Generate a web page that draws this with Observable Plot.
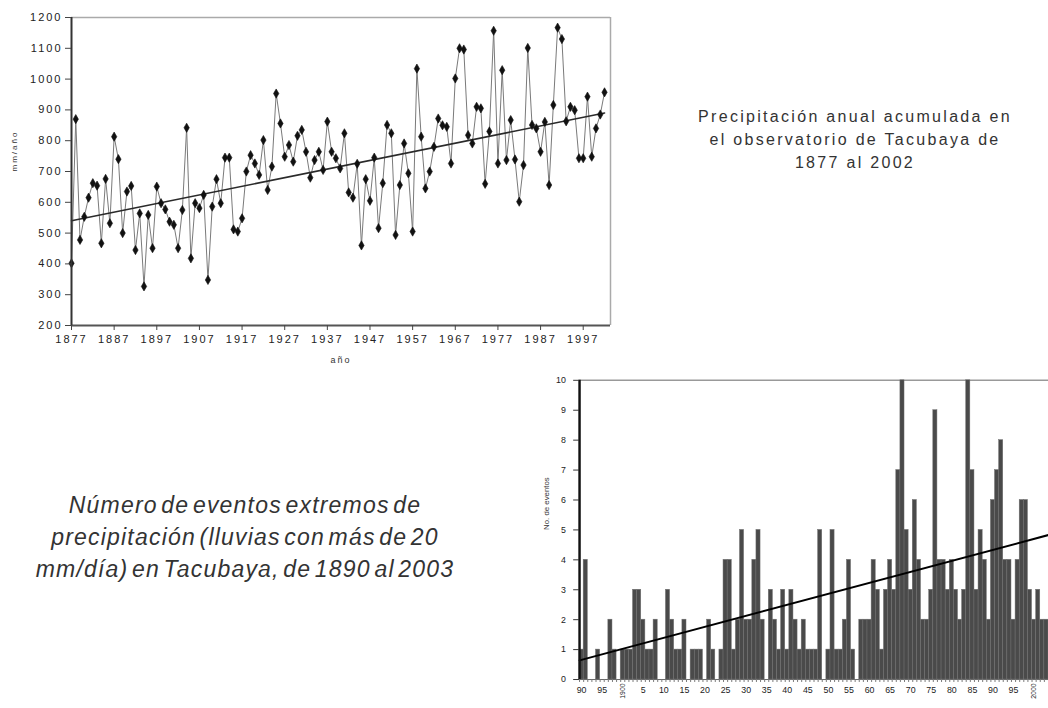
<!DOCTYPE html>
<html>
<head>
<meta charset="utf-8">
<script src="https://cdn.jsdelivr.net/npm/d3@7"></script>
<script src="https://cdn.jsdelivr.net/npm/@observablehq/plot@0.6"></script>
<style>
  html, body { margin: 0; padding: 0; background: #fff; width: 1048px; height: 708px; overflow: hidden; }
  #root { position: relative; width: 1048px; height: 708px; overflow: hidden; }
  .abs { position: absolute; }
  #topChart { left: 0; top: 0; }
  #barChart { left: 530px; top: 370px; }
  #t1 { left: 655px; top: 105px; width: 400px; text-align: center;
        font-family: "Liberation Sans", Arial, sans-serif; font-size: 16px; line-height: 23px;
        color: #333; letter-spacing: 2.3px; }
  #t2 { left: 5px; top: 489px; width: 480px; text-align: center;
        font-family: "Liberation Sans", Arial, sans-serif; font-style: italic; font-size: 23px;
        line-height: 32px; color: #333; letter-spacing: 1.2px; word-spacing: -4px; }
</style>
</head>
<body>
<div id="root">
  <div id="topChart" class="abs"></div>
  <div id="t1" class="abs">Precipitación anual acumulada en<br>el observatorio de Tacubaya de<br>1877 al 2002</div>
  <div id="t2" class="abs">Número de eventos extremos de<br>precipitación (lluvias con más de 20<br>mm/día) en Tacubaya, de 1890 al 2003</div>
  <div id="barChart" class="abs"></div>
</div>
<script>
// ---------- Data: annual accumulated precipitation, Tacubaya (mm/año) ----------
const precipStartYear = 1877;
const precipValues = [
  402, 870, 478, 553, 615, 662, 654, 467, 676, 532,
  813, 740, 500, 635, 653, 445, 564, 327, 559, 451,
  651, 597, 577, 537, 527, 451, 575, 842, 418, 597,
  581, 624, 348, 586, 675, 597, 745, 745, 512, 505,
  548, 700, 753, 726, 689, 802, 640, 716, 953, 856,
  748, 786, 732, 816, 835, 764, 680, 737, 764, 705,
  862, 764, 743, 710, 824, 632, 615, 725, 460, 675,
  605, 745, 516, 662, 851, 824, 494, 656, 791, 694,
  505, 1034, 813, 645, 700, 780, 872, 850, 845, 726,
  1002, 1100, 1096, 818, 791, 910, 905, 660, 830, 1157,
  726, 1029, 737, 867, 739, 602, 721, 1101, 851, 840,
  764, 861, 656, 916, 1167, 1130, 863, 910, 899, 743,
  743, 943, 748, 840, 885, 957
];
const precipTrendYears = [1877, 2002];
const precipTrendValues = [540, 890];
const precipXTicks = [1877, 1887, 1897, 1907, 1917, 1927, 1937, 1947, 1957, 1967, 1977, 1987, 1997];
const precipYTicks = [200, 300, 400, 500, 600, 700, 800, 900, 1000, 1100, 1200];

// ---------- Data: number of extreme precipitation events (> 20 mm/día) ----------
const eventStartYear = 1890;
const eventCounts = [
  1, 4, 0, 0, 1, 0, 0, 2, 1, 0,
  1, 1, 1, 3, 3, 2, 1, 1, 2, 0,
  0, 3, 2, 1, 1, 2, 0, 1, 1, 1,
  0, 2, 1, 0, 1, 4, 4, 1, 2, 5,
  2, 2, 4, 5, 2, 0, 3, 2, 1, 3,
  1, 3, 2, 1, 2, 1, 1, 1, 5, 0,
  1, 5, 1, 1, 2, 4, 1, 0, 2, 2,
  2, 4, 3, 1, 3, 4, 3, 7, 10, 5,
  3, 6, 4, 2, 2, 3, 9, 4, 4, 3,
  4, 3, 2, 3, 10, 7, 3, 5, 4, 2,
  6, 7, 8, 4, 4, 2, 4, 6, 6, 3,
  2, 3, 2, 2
];
const eventTrendYears = [1889.5, 2003.5];
const eventTrendValues = [0.64, 4.83];
const eventYTicks = [0, 1, 2, 3, 4, 5, 6, 7, 8, 9, 10];
const eventShortTicks = [1890, 1895, 1905, 1910, 1915, 1920, 1925, 1930, 1935, 1940, 1945,
  1950, 1955, 1960, 1965, 1970, 1975, 1980, 1985, 1990, 1995];
const eventCenturyTicks = [1900, 2000];

// ---------- Tables ----------
const precip = precipValues.map((v, i) => ({year: precipStartYear + i, value: v}));
const precipTrend = precipTrendYears.map((y, i) => ({year: y, value: precipTrendValues[i]}));
const events = eventCounts.map((c, i) => ({year: eventStartYear + i, count: c}));
const eventTrend = eventTrendYears.map((y, i) => ({year: y, count: eventTrendValues[i]}));
const yearEdges = d3.range(eventStartYear - 0.5, eventStartYear + eventCounts.length, 1);

// ---------- Top chart ----------
const xMax = 2003.4;
const topChart = Plot.plot({
  width: 620, height: 370,
  marginLeft: 71, marginRight: 10, marginTop: 17, marginBottom: 45,
  style: {fontFamily: "'Liberation Sans', Arial, sans-serif", fontSize: "11px", color: "#222",
          background: "transparent", letterSpacing: "2px", overflow: "visible"},
  x: {domain: [precipStartYear, xMax]},
  y: {domain: [200, 1200]},
  marks: [
    Plot.ruleY([1200], {stroke: "#aaa", strokeWidth: 1.5}),
    Plot.ruleX([xMax], {stroke: "#aaa", strokeWidth: 1.5}),
    Plot.line(precip, {x: "year", y: "value", stroke: "#7a7a7a", strokeWidth: 1}),
    Plot.line(precipTrend, {x: "year", y: "value", stroke: "#2a2a2a", strokeWidth: 1.6}),
    Plot.dot(precip, {x: "year", y: "value", symbol: "diamond", r: 2.8, fill: "#111", stroke: "#111", strokeWidth: 0.6}),
    Plot.ruleY([200], {stroke: "#555", strokeWidth: 2}),
    Plot.ruleX([precipStartYear], {stroke: "#333", strokeWidth: 2}),
    Plot.axisY({ticks: precipYTicks, tickSize: 6, tickPadding: 3, tickFormat: d => String(d), label: null, stroke: "#444"}),
    Plot.axisX({ticks: precipXTicks, tickSize: 5, tickPadding: 5, tickFormat: d => String(d), label: null, stroke: "#444"}),
    Plot.text(["mm/año"], {frameAnchor: "left", dx: -57, rotate: -90, fontSize: 8, fill: "#333"}),
    Plot.text(["año"], {frameAnchor: "bottom", dy: 37, fontSize: 9, fill: "#333"})
  ]
});
document.getElementById("topChart").appendChild(topChart);

// ---------- Bottom chart ----------
const shortLabel = y => String(y % 100);
const barChart = Plot.plot({
  width: 528, height: 338,
  marginLeft: 50, marginRight: 0, marginTop: 10, marginBottom: 23,
  style: {fontFamily: "'Liberation Sans', Arial, sans-serif", fontSize: "9px", color: "#222",
          background: "transparent", overflow: "visible"},
  x: {domain: [eventStartYear - 0.5, eventStartYear + eventCounts.length - 0.5]},
  y: {domain: [0, 10]},
  marks: [
    Plot.ruleY([10], {stroke: "#999", strokeWidth: 1.5}),
    Plot.rectY(events, {x1: d => d.year - 0.5, x2: d => d.year + 0.5, y: "count",
                        fill: "#4a4a4a", stroke: "#707070", strokeWidth: 0.5}),
    Plot.line(eventTrend, {x: "year", y: "count", stroke: "#000", strokeWidth: 2}),
    Plot.ruleY([0], {stroke: "#666", strokeWidth: 1}),
    Plot.ruleX([eventStartYear - 0.5], {stroke: "#111", strokeWidth: 2.5}),
    Plot.axisY({ticks: eventYTicks, tickSize: 6, tickPadding: 8, label: null, stroke: "#333"}),
    Plot.axisX({ticks: yearEdges, tickSize: 3, tickFormat: () => "", label: null, stroke: "#777"}),
    Plot.axisX({ticks: eventShortTicks, tickSize: 0, tickPadding: 7, tickFormat: shortLabel, label: null, style: {letterSpacing: "0.8px"}}),
    Plot.axisX({ticks: eventCenturyTicks, tickSize: 0, tickPadding: 4, tickRotate: -90, tickFormat: d => String(d), label: null, fontSize: 7, fill: "#222"}),
    Plot.text(["No. de eventos"], {frameAnchor: "left", dx: -34, rotate: -90, fontSize: 8, fill: "#333"})
  ]
});
document.getElementById("barChart").appendChild(barChart);
</script>
</body>
</html>
